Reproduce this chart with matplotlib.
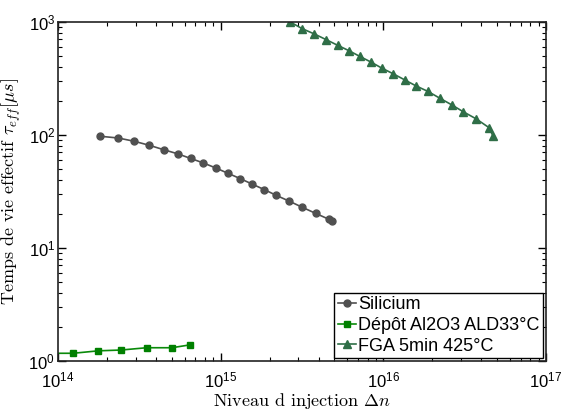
import matplotlib
matplotlib.use("Agg")
import matplotlib.pyplot as plt
from matplotlib.ticker import FuncFormatter, LogLocator
import numpy as np

# Silicium (bare wafer)
si_dn = [1.81e14, 2.35e14, 2.94e14, 3.65e14, 4.48e14, 5.47e14, 6.54e14, 7.82e14,
         9.35e14, 1.11e15, 1.32e15, 1.56e15, 1.86e15, 2.20e15, 2.65e15, 3.18e15,
         3.85e15, 4.61e15, 4.85e15]
si_tau = [97.5, 94, 88, 81, 74, 68, 62, 56.6, 51, 45.8, 41.1, 36.8, 32.8, 29.2,
          25.9, 22.9, 20.2, 18.0, 17.2]

# Al2O3 deposition at 33 C
dep_dn = [9.0e13, 1.24e14, 1.77e14, 2.44e14, 3.51e14, 5.02e14, 6.50e14]
dep_tau = [1.17, 1.17, 1.23, 1.25, 1.31, 1.31, 1.39]

# Forming gas anneal 5 min 425 C
fga_dn = [2.68e15, 3.17e15, 3.77e15, 4.46e15, 5.25e15, 6.15e15, 7.17e15, 8.39e15,
          9.78e15, 1.15e16, 1.35e16, 1.58e16, 1.88e16, 2.22e16, 2.63e16, 3.09e16,
          3.72e16, 4.47e16, 4.71e16]
fga_tau = [1000, 873, 783, 697, 621, 557, 496, 442, 391, 348, 308, 273, 243, 212,
           185, 161, 139, 116, 98.9]

plt.rcParams["font.family"] = ["Liberation Sans", "DejaVu Sans"]

fig = plt.figure(figsize=(5.78, 4.18), dpi=100)
ax = fig.add_axes([0.1003, 0.1364, 0.8443, 0.811])

ax.plot(si_dn, si_tau, "-o", color="#505050", markersize=5, linewidth=1.2,
        label="Silicium")
ax.plot(dep_dn, dep_tau, "-s", color="#0a8a0a", markerfacecolor="#008000",
        markeredgecolor="#008000", markersize=4.5, linewidth=1.2,
        label="Dépôt Al2O3 ALD33°C")
ax.plot(fga_dn, fga_tau, "-^", color="#2f6e47", markersize=5.5, linewidth=1.2,
        label="FGA 5min 425°C")

ax.set_xscale("log")
ax.set_yscale("log")
ax.set_xlim(1e14, 1e17)
ax.set_ylim(1, 1e3)

ax.xaxis.set_major_locator(LogLocator(base=10, numticks=10))
ax.yaxis.set_major_locator(LogLocator(base=10, numticks=10))
fmt = FuncFormatter(lambda v, p: r"$\mathregular{10^{%d}}$" % round(np.log10(v)))
ax.xaxis.set_major_formatter(fmt)
ax.yaxis.set_major_formatter(fmt)

ax.tick_params(which="both", direction="in", top=True, right=True,
               labelsize=12, colors="black")
ax.tick_params(which="major", length=6, width=1)
ax.tick_params(which="minor", length=3, width=0.8)
ax.tick_params(axis="x", pad=7)
ax.tick_params(axis="y", pad=2)
for s in ax.spines.values():
    s.set_linewidth(1.2)
    s.set_color("#222222")

ax.set_xlabel(r"Niveau d injection $\Delta n$", fontfamily="cmr10",
              math_fontfamily="cm", fontsize=13, labelpad=0)
ax.set_ylabel(r"Temps de vie effectif $\tau_{eff}[\mu s]$", fontfamily="cmr10",
              math_fontfamily="cm", fontsize=13, labelpad=4)

leg = ax.legend(loc="lower right", fontsize=13, handlelength=1.0, handletextpad=0.15,
                borderpad=0.2, labelspacing=0.2, borderaxespad=0.15,
                fancybox=False, framealpha=1, edgecolor="black")
leg.get_frame().set_linewidth(1.0)

fig.savefig("out.png", dpi=100)
